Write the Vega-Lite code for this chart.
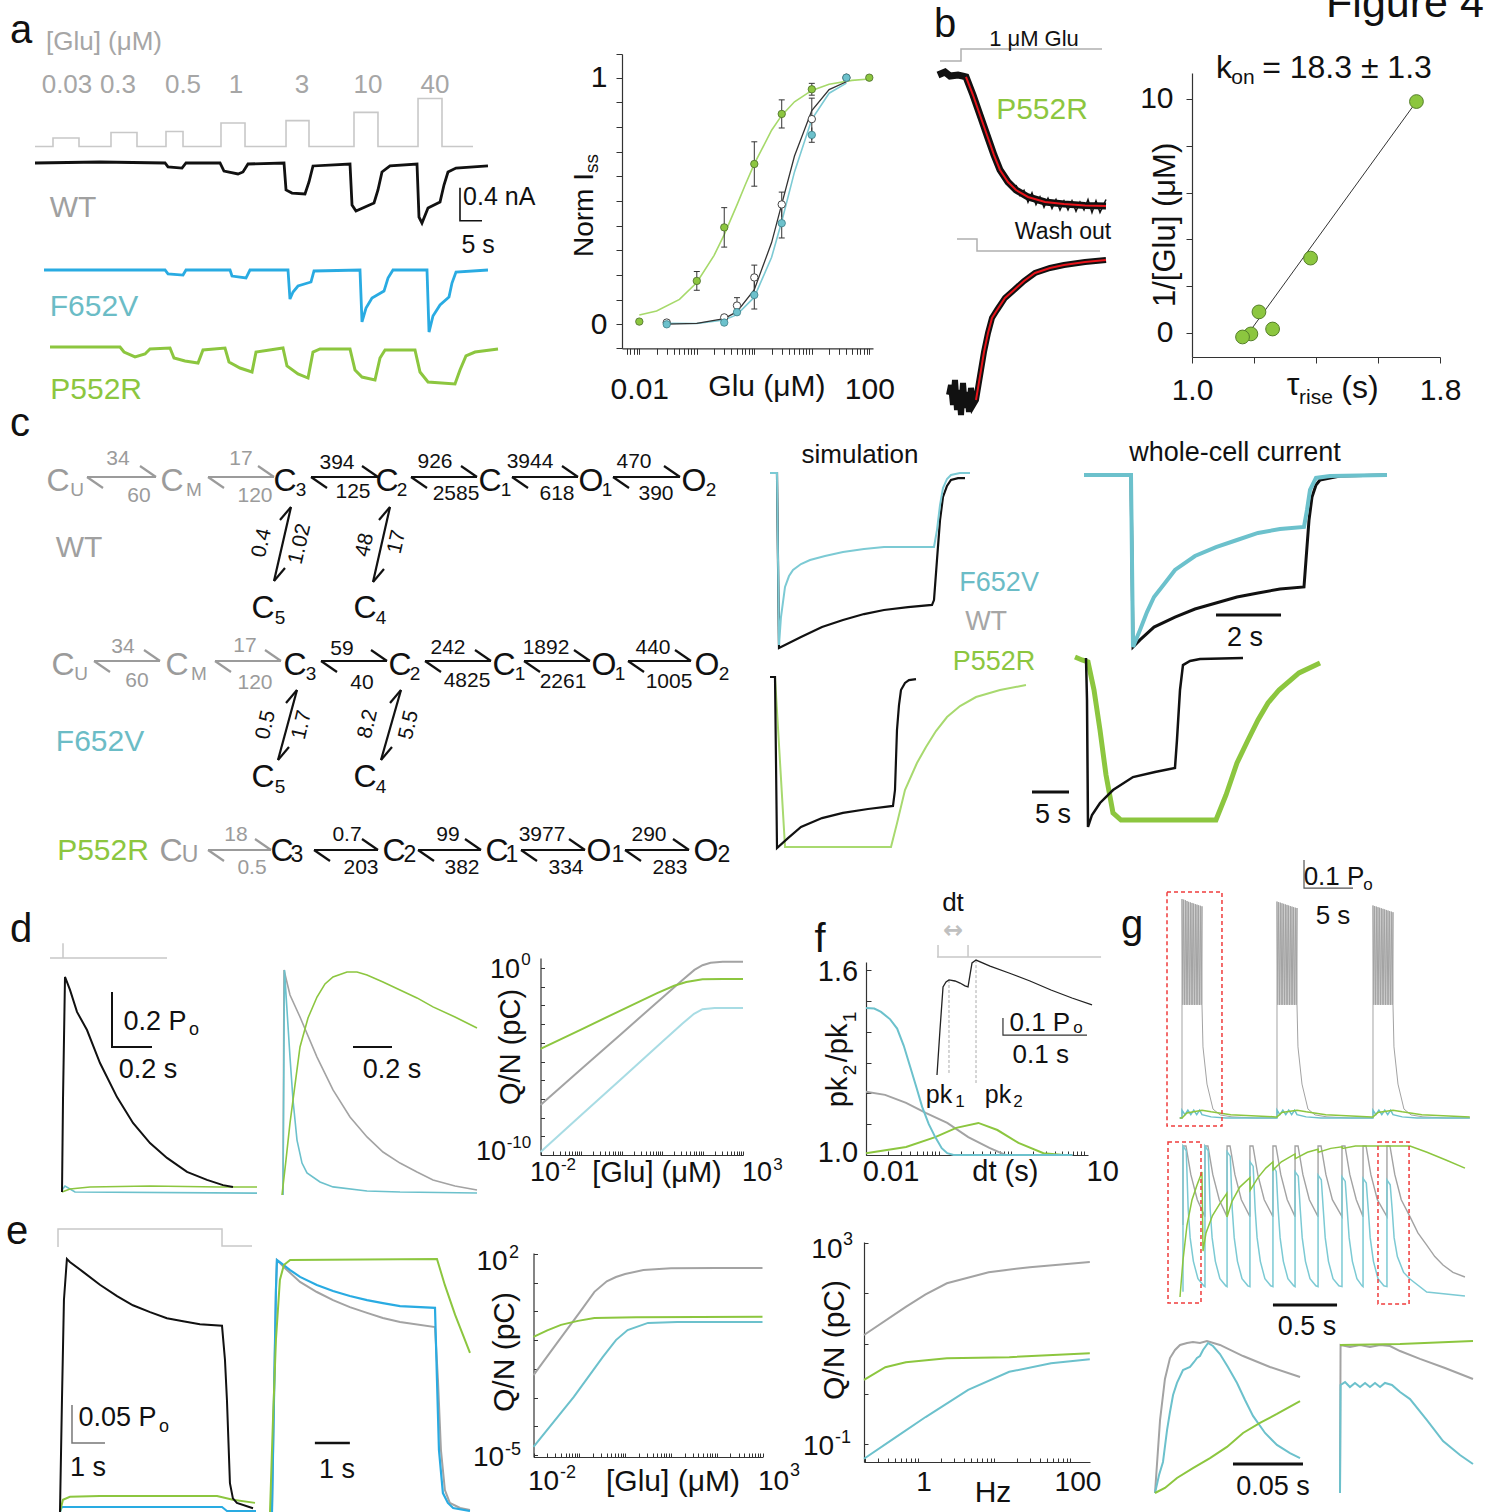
{
"$schema":"https://vega.github.io/schema/vega-lite/v6.json",
"width":1485,"height":1512,"padding":0,"autosize":{"type":"none"},"background":"#ffffff",
"config":{"view":{"stroke":null},"font":"Liberation Sans","axis":{"grid":false,"title":null,"domainColor":"#333333","tickColor":"#333333","domainWidth":1.2,"tickWidth":1,"labelColor":"#111111","labelFont":"Liberation Sans","labelFlush":false,"labelOverlap":false}},
"resolve":{"scale":{"x":"independent","y":"independent"}},
"layer":[
{"encoding":{"x":{"field":"x","type":"quantitative","scale":{"domain":[0,100],"range":[35,475],"nice":false,"zero":false},"axis":null},"y":{"field":"y","type":"quantitative","scale":{"domain":[0,1],"range":[146.5,98.5],"nice":false,"zero":false},"axis":null}},
"layer":[
{"data":{"values":[{"x":0,"y":0},{"x":4.09,"y":0},{"x":4.09,"y":0.177},{"x":10,"y":0.177},{"x":10,"y":0},{"x":17.27,"y":0},{"x":17.27,"y":0.292},{"x":23.18,"y":0.292},{"x":23.18,"y":0},{"x":29.77,"y":0},{"x":29.77,"y":0.3125},{"x":33.64,"y":0.3125},{"x":33.64,"y":0},{"x":42.27,"y":0},{"x":42.27,"y":0.49},{"x":47.73,"y":0.49},{"x":47.73,"y":0},{"x":57.05,"y":0},{"x":57.05,"y":0.54},{"x":62.27,"y":0.54},{"x":62.27,"y":0},{"x":72.5,"y":0},{"x":72.5,"y":0.71},{"x":77.95,"y":0.71},{"x":77.95,"y":0},{"x":87.05,"y":0},{"x":87.05,"y":1},{"x":92.5,"y":1},{"x":92.5,"y":0},{"x":99.55,"y":0}]},"mark":{"type":"line","color":"#c8c8c8","strokeWidth":1.6},"encoding":{"order":{"value":null}}},
{"data":{"values":[{"x":7.27,"y":1.281,"t":"0.03"},{"x":18.86,"y":1.281,"t":"0.3"},{"x":33.64,"y":1.281,"t":"0.5"},{"x":45.68,"y":1.281,"t":"1"},{"x":60.68,"y":1.281,"t":"3"},{"x":75.68,"y":1.281,"t":"10"},{"x":90.9,"y":1.281,"t":"40"},{"x":15.68,"y":2.177,"t":"[Glu] (μM)"}]},"mark":{"type":"text","color":"#a6a6a6","fontSize":26},"encoding":{"text":{"field":"t"}}},
{"data":{"values":[{"x":-3.18,"y":2.406,"t":"a"}]},"mark":{"type":"text","color":"#111111","fontSize":40},"encoding":{"text":{"field":"t"}}}
]},
{"encoding":{"x":{"field":"x","type":"quantitative","scale":{"domain":[0,100],"range":[35,475],"nice":false,"zero":false},"axis":null},"y":{"field":"y","type":"quantitative","scale":{"domain":[-1,0],"range":[245.5,163],"nice":false,"zero":false},"axis":null}},
"layer":[
{"data":{"values":[{"x":0,"y":0},{"x":14.77,"y":0.012},{"x":29.55,"y":0},{"x":30.23,"y":-0.048},{"x":33.41,"y":-0.061},{"x":34.32,"y":0},{"x":42.05,"y":0},{"x":42.95,"y":-0.097},{"x":46.14,"y":-0.133},{"x":47.27,"y":-0.109},{"x":48.41,"y":-0.012},{"x":56.59,"y":0},{"x":57.05,"y":-0.327},{"x":58.41,"y":-0.364},{"x":61.36,"y":-0.376},{"x":62.27,"y":-0.23},{"x":63.18,"y":-0.036},{"x":71.59,"y":-0.012},{"x":72.05,"y":-0.509},{"x":72.95,"y":-0.582},{"x":75,"y":-0.533},{"x":77.05,"y":-0.485},{"x":77.95,"y":-0.327},{"x":78.86,"y":-0.109},{"x":80.68,"y":-0.036},{"x":86.82,"y":-0.012},{"x":87.27,"y":-0.655},{"x":87.95,"y":-0.727},{"x":89.32,"y":-0.545},{"x":92.05,"y":-0.473},{"x":92.95,"y":-0.267},{"x":93.86,"y":-0.109},{"x":95.68,"y":-0.061},{"x":102.95,"y":-0.036}]},"mark":{"type":"line","color":"#111111","strokeWidth":2.8},"encoding":{"order":{"value":null}}},
{"data":{"values":[{"x":96.59,"y":-0.3},{"x":96.59,"y":-0.7},{"x":101.59,"y":-0.7}]},"mark":{"type":"line","color":"#111111","strokeWidth":1.6},"encoding":{"order":{"value":null}}},
{"data":{"values":[{"x":105.5,"y":-0.412,"t":"0.4 nA"},{"x":100.7,"y":-0.994,"t":"5 s"}]},"mark":{"type":"text","color":"#111111","fontSize":25},"encoding":{"text":{"field":"t"}}},
{"data":{"values":[{"x":8.64,"y":-0.545,"t":"WT"}]},"mark":{"type":"text","color":"#a0a0a0","fontSize":30},"encoding":{"text":{"field":"t"}}}
]},
{"encoding":{"x":{"field":"x","type":"quantitative","scale":{"domain":[0,100],"range":[35,475],"nice":false,"zero":false},"axis":null},"y":{"field":"y","type":"quantitative","scale":{"domain":[-1,0],"range":[352.5,270],"nice":false,"zero":false},"axis":null}},
"layer":[
{"data":{"values":[{"x":2.05,"y":0},{"x":29.55,"y":0},{"x":30.23,"y":-0.048},{"x":33.64,"y":-0.061},{"x":34.32,"y":0},{"x":44.32,"y":0},{"x":44.77,"y":-0.073},{"x":47.95,"y":-0.097},{"x":48.86,"y":0},{"x":57.5,"y":0},{"x":57.95,"y":-0.352},{"x":58.64,"y":-0.267},{"x":59.77,"y":-0.194},{"x":62.73,"y":-0.145},{"x":63.41,"y":-0.012},{"x":73.86,"y":0},{"x":74.32,"y":-0.63},{"x":75.23,"y":-0.461},{"x":76.59,"y":-0.339},{"x":79.32,"y":-0.255},{"x":80.23,"y":-0.097},{"x":81.36,"y":0},{"x":89.09,"y":0},{"x":89.55,"y":-0.752},{"x":90.45,"y":-0.558},{"x":92.05,"y":-0.424},{"x":94.09,"y":-0.327},{"x":94.77,"y":-0.158},{"x":95.68,"y":-0.024},{"x":102.95,"y":0}]},"mark":{"type":"line","color":"#29abe2","strokeWidth":2.8},"encoding":{"order":{"value":null}}},
{"data":{"values":[{"x":13.4,"y":-0.448,"t":"F652V"}]},"mark":{"type":"text","color":"#6bbcc6","fontSize":30},"encoding":{"text":{"field":"t"}}}
]},
{"encoding":{"x":{"field":"x","type":"quantitative","scale":{"domain":[0,100],"range":[35,475],"nice":false,"zero":false},"axis":null},"y":{"field":"y","type":"quantitative","scale":{"domain":[-1,0],"range":[429.5,347],"nice":false,"zero":false},"axis":null}},
"layer":[
{"data":{"values":[{"x":3.41,"y":0},{"x":19.32,"y":0},{"x":20.23,"y":-0.061},{"x":22.73,"y":-0.121},{"x":25,"y":-0.085},{"x":26.14,"y":-0.024},{"x":30.68,"y":-0.012},{"x":31.59,"y":-0.133},{"x":34.09,"y":-0.17},{"x":37.05,"y":-0.194},{"x":38.18,"y":-0.036},{"x":43.18,"y":-0.012},{"x":44.09,"y":-0.182},{"x":46.59,"y":-0.255},{"x":49.32,"y":-0.303},{"x":50.23,"y":-0.061},{"x":56.36,"y":-0.012},{"x":57.27,"y":-0.23},{"x":59.77,"y":-0.327},{"x":62.05,"y":-0.376},{"x":63.18,"y":-0.061},{"x":64.77,"y":-0.024},{"x":71.59,"y":-0.024},{"x":72.73,"y":-0.279},{"x":74.32,"y":-0.364},{"x":77.27,"y":-0.4},{"x":78.41,"y":-0.133},{"x":79.55,"y":-0.036},{"x":86.36,"y":-0.036},{"x":87.5,"y":-0.303},{"x":89.32,"y":-0.424},{"x":95.45,"y":-0.448},{"x":96.59,"y":-0.279},{"x":97.95,"y":-0.109},{"x":100,"y":-0.061},{"x":105.23,"y":-0.024}]},"mark":{"type":"line","color":"#8cc63f","strokeWidth":3},"encoding":{"order":{"value":null}}},
{"data":{"values":[{"x":13.9,"y":-0.521,"t":"P552R"}]},"mark":{"type":"text","color":"#8cc63f","fontSize":30},"encoding":{"text":{"field":"t"}}}
]},
{"encoding":{"x":{"field":"x","type":"quantitative","scale":{"type":"log","domain":[0.005,116],"range":[622,873],"nice":false},"axis":{"orient":"bottom","offset":-1163.7,"values":[0.006,0.007,0.008,0.009,0.01,0.02,0.03,0.04,0.05,0.06,0.07,0.08,0.09,0.1,0.2,0.3,0.4,0.5,0.6,0.7,0.8,0.9,1,2,3,4,5,6,7,8,9,10,20,30,40,50,60,70,80,90,100],"labelExpr":"datum.value==0.01?'0.01':datum.value==100?'100':''","tickSize":6,"labelFontSize":30,"labelPadding":20}},"y":{"field":"y","type":"quantitative","scale":{"domain":[-0.0973,1.096],"range":[348.3,54],"nice":false,"zero":false},"axis":{"orient":"left","offset":-622,"values":[-0.0973,0,0.1,0.2,0.3,0.4,0.5,0.6,0.7,0.8,0.9,1,1.096],"labelExpr":"datum.value==0?'0':datum.value==1?'1':''","tickSize":6,"labelFontSize":30,"labelPadding":9}}},
"layer":[
{"data":{"values":[{"x":0.01,"y":0.0374},{"x":0.02,"y":0.054},{"x":0.05,"y":0.101},{"x":0.1,"y":0.1696},{"x":0.2,"y":0.2796},{"x":0.3,"y":0.3639},{"x":0.5,"y":0.4845},{"x":0.7,"y":0.5666},{"x":1,"y":0.6502},{"x":2,"y":0.7871},{"x":3,"y":0.847},{"x":5,"y":0.9021},{"x":10,"y":0.9485},{"x":20,"y":0.9735},{"x":50,"y":0.9892},{"x":100,"y":0.9946}]},"mark":{"type":"line","color":"#a6d96a","strokeWidth":1.6},"encoding":{"order":{"value":null}}},
{"data":{"values":[{"x":0.03,"y":0.0045},{"x":0.1,"y":0.0031},{"x":0.3,"y":0.0176},{"x":0.5,"y":0.039},{"x":1,"y":0.11},{"x":2,"y":0.272},{"x":3,"y":0.417},{"x":5,"y":0.618},{"x":10,"y":0.831},{"x":20,"y":0.937},{"x":40,"y":0.978}]},"mark":{"type":"line","color":"#7ccad4","strokeWidth":1.6},"encoding":{"order":{"value":null}}},
{"data":{"values":[{"x":0.03,"y":0.0006},{"x":0.1,"y":0.0041},{"x":0.3,"y":0.0233},{"x":0.5,"y":0.0512},{"x":1,"y":0.1407},{"x":2,"y":0.3315},{"x":3,"y":0.487},{"x":5,"y":0.6824},{"x":10,"y":0.8669},{"x":20,"y":0.9518},{"x":40,"y":0.9835}]},"mark":{"type":"line","color":"#333333","strokeWidth":1.3},"encoding":{"order":{"value":null}}},
{"data":{"values":[{"x":0.1,"x2":0.1,"y":0.138,"y2":0.214},{"x":0.0887,"x2":0.1127,"y":0.138,"y2":0.138},{"x":0.0887,"x2":0.1127,"y":0.214,"y2":0.214},{"x":0.3,"x2":0.3,"y":0.313,"y2":0.473},{"x":0.266,"x2":0.338,"y":0.313,"y2":0.313},{"x":0.266,"x2":0.338,"y":0.473,"y2":0.473},{"x":1,"x2":1,"y":0.56,"y2":0.74},{"x":0.8873,"x2":1.127,"y":0.56,"y2":0.56},{"x":0.8873,"x2":1.127,"y":0.74,"y2":0.74},{"x":3,"x2":3,"y":0.796,"y2":0.91},{"x":2.662,"x2":3.381,"y":0.796,"y2":0.796},{"x":2.662,"x2":3.381,"y":0.91,"y2":0.91},{"x":10,"x2":10,"y":0.929,"y2":0.977},{"x":8.873,"x2":11.27,"y":0.929,"y2":0.929},{"x":8.873,"x2":11.27,"y":0.977,"y2":0.977},{"x":0.5,"x2":0.5,"y":0.044,"y2":0.108},{"x":0.4437,"x2":0.5635,"y":0.044,"y2":0.044},{"x":0.4437,"x2":0.5635,"y":0.108,"y2":0.108},{"x":1,"x2":1,"y":0.14,"y2":0.24},{"x":0.8873,"x2":1.127,"y":0.24,"y2":0.24},{"x":3,"x2":3,"y":0.436,"y2":0.536},{"x":2.662,"x2":3.381,"y":0.536,"y2":0.536},{"x":10,"x2":10,"y":0.747,"y2":0.917},{"x":8.873,"x2":11.27,"y":0.917,"y2":0.917},{"x":1,"x2":1,"y":0.062,"y2":0.176},{"x":0.8873,"x2":1.127,"y":0.062,"y2":0.062},{"x":3,"x2":3,"y":0.35,"y2":0.47},{"x":2.662,"x2":3.381,"y":0.35,"y2":0.35},{"x":10,"x2":10,"y":0.738,"y2":0.798},{"x":8.873,"x2":11.27,"y":0.738,"y2":0.738}]},"mark":{"type":"rule","color":"#333333","strokeWidth":1},"encoding":{"x2":{"field":"x2"},"y2":{"field":"y2"}}},
{"data":{"values":[{"x":0.01,"y":0.011},{"x":0.1,"y":0.176},{"x":0.3,"y":0.393},{"x":1,"y":0.65},{"x":3,"y":0.853},{"x":10,"y":0.953},{"x":100,"y":1.0}]},"mark":{"type":"point","shape":"circle","filled":true,"fill":"#8cc63f","stroke":"#4a6b2a","strokeWidth":0.8,"size":55,"opacity":1}},
{"data":{"values":[{"x":0.03,"y":0.007},{"x":0.3,"y":0.028},{"x":0.5,"y":0.076},{"x":1,"y":0.19},{"x":3,"y":0.486},{"x":10,"y":0.832},{"x":40,"y":1.0}]},"mark":{"type":"point","shape":"circle","filled":true,"fill":"#ffffff","stroke":"#444444","strokeWidth":1,"size":55,"opacity":1}},
{"data":{"values":[{"x":0.03,"y":0.0},{"x":0.3,"y":0.007},{"x":0.5,"y":0.049},{"x":1,"y":0.119},{"x":3,"y":0.41},{"x":10,"y":0.768},{"x":40,"y":1.0}]},"mark":{"type":"point","shape":"circle","filled":true,"fill":"#6cc1cc","stroke":"#3d7f88","strokeWidth":0.8,"size":55,"opacity":1}},
{"data":{"values":[{"x":0.001137,"y":0.4432,"t":"Norm I"}]},"mark":{"type":"text","color":"#111111","fontSize":28,"angle":270},"encoding":{"text":{"field":"t"}}},
{"data":{"values":[{"x":0.001503,"y":0.652,"t":"ss"}]},"mark":{"type":"text","color":"#111111","fontSize":19,"angle":270},"encoding":{"text":{"field":"t"}}},
{"data":{"values":[{"x":1.66,"y":-0.254,"t":"Glu (μM)"}]},"mark":{"type":"text","color":"#111111","fontSize":30},"encoding":{"text":{"field":"t"}}}
]},
{"encoding":{"x":{"field":"x","type":"quantitative","scale":{"domain":[0,16.8],"range":[938,1106],"nice":false,"zero":false},"axis":null},"y":{"field":"y","type":"quantitative","scale":{"domain":[-1,0],"range":[206,75],"nice":false,"zero":false},"axis":null}},
"layer":[
{"data":{"values":[{"x":0.2,"y":0.107},{"x":2.3,"y":0.107},{"x":2.3,"y":0.198},{"x":16.4,"y":0.198}]},"mark":{"type":"line","color":"#b0b0b0","strokeWidth":1.5},"encoding":{"order":{"value":null}}},
{"data":{"values":[{"x":0,"y":0},{"x":0.7,"y":0.023},{"x":1.2,"y":-0.008},{"x":2,"y":0},{"x":2.5,"y":-0.008},{"x":2.8,"y":-0.015},{"x":3.5,"y":-0.153},{"x":4.3,"y":-0.328},{"x":5,"y":-0.481},{"x":5.6,"y":-0.611},{"x":6.2,"y":-0.725},{"x":7,"y":-0.817},{"x":7.8,"y":-0.878},{"x":9,"y":-0.931},{"x":10.7,"y":-0.969},{"x":12.6,"y":-0.985},{"x":14.7,"y":-0.996},{"x":16.8,"y":-1.0}]},"mark":{"type":"line","color":"#111111","strokeWidth":7},"encoding":{"order":{"value":null}}},
{"data":{"values":[{"x":7.8,"y":-0.84},{"x":8.2,"y":-0.92},{"x":8.6,"y":-0.88},{"x":9.0,"y":-0.97},{"x":9.4,"y":-0.9},{"x":9.8,"y":-0.99},{"x":10.2,"y":-0.93},{"x":10.6,"y":-1.01},{"x":11.0,"y":-0.94},{"x":11.4,"y":-1.02},{"x":11.8,"y":-0.95},{"x":12.2,"y":-1.03},{"x":12.6,"y":-0.96},{"x":13.0,"y":-1.03},{"x":13.4,"y":-0.96},{"x":13.8,"y":-1.04},{"x":14.2,"y":-0.97},{"x":14.6,"y":-1.03},{"x":15.0,"y":-0.95},{"x":15.4,"y":-1.05},{"x":15.8,"y":-0.96},{"x":16.2,"y":-1.05},{"x":16.8,"y":-0.95}]},"mark":{"type":"line","color":"#111111","strokeWidth":1.5},"encoding":{"order":{"value":null}}},
{"data":{"values":[{"x":2.8,"y":-0.015},{"x":3.5,"y":-0.153},{"x":4.3,"y":-0.328},{"x":5,"y":-0.481},{"x":5.6,"y":-0.611},{"x":6.2,"y":-0.725},{"x":7,"y":-0.817},{"x":7.8,"y":-0.878},{"x":9,"y":-0.931},{"x":10.7,"y":-0.969},{"x":12.6,"y":-0.985},{"x":14.7,"y":-0.996},{"x":16.8,"y":-1.0}]},"mark":{"type":"line","color":"#e8141b","strokeWidth":2},"encoding":{"order":{"value":null}}},
{"data":{"values":[{"x":9.6,"y":0.275,"t":"1 μM Glu"}]},"mark":{"type":"text","color":"#111111","fontSize":22},"encoding":{"text":{"field":"t"}}},
{"data":{"values":[{"x":0.7,"y":0.382,"t":"b"}]},"mark":{"type":"text","color":"#111111","fontSize":40},"encoding":{"text":{"field":"t"}}},
{"data":{"values":[{"x":10.4,"y":-0.267,"t":"P552R"}]},"mark":{"type":"text","color":"#8cc63f","fontSize":30},"encoding":{"text":{"field":"t"}}}
]},
{"encoding":{"x":{"field":"x","type":"quantitative","scale":{"domain":[0,16.8],"range":[938,1106],"nice":false,"zero":false},"axis":null},"y":{"field":"y","type":"quantitative","scale":{"domain":[-1,0],"range":[400,260],"nice":false,"zero":false},"axis":null}},
"layer":[
{"data":{"values":[{"x":1.9,"y":0.15},{"x":3.9,"y":0.15},{"x":3.9,"y":0.064},{"x":16.2,"y":0.064}]},"mark":{"type":"line","color":"#b0b0b0","strokeWidth":1.5},"encoding":{"order":{"value":null}}},
{"data":{"values":[{"x":1.1,"y":-0.964},{"x":1.3,"y":-0.893},{"x":1.5,"y":-1.036},{"x":1.7,"y":-0.857},{"x":1.9,"y":-1.071},{"x":2.1,"y":-0.929},{"x":2.3,"y":-1.107},{"x":2.5,"y":-0.879},{"x":2.7,"y":-1.057},{"x":2.9,"y":-0.943},{"x":3.1,"y":-1.086},{"x":3.3,"y":-0.914},{"x":3.5,"y":-1.036},{"x":3.8,"y":-1.0},{"x":4.2,"y":-0.829},{"x":4.6,"y":-0.657},{"x":5.0,"y":-0.521},{"x":5.4,"y":-0.414},{"x":5.9,"y":-0.357},{"x":6.7,"y":-0.271},{"x":7.6,"y":-0.214},{"x":8.6,"y":-0.15},{"x":9.7,"y":-0.093},{"x":11.2,"y":-0.057},{"x":12.6,"y":-0.036},{"x":14.7,"y":-0.014},{"x":16.8,"y":0}]},"mark":{"type":"line","color":"#111111","strokeWidth":6},"encoding":{"order":{"value":null}}},
{"data":{"values":[{"x":3.8,"y":-1.0},{"x":4.2,"y":-0.829},{"x":4.6,"y":-0.657},{"x":5.0,"y":-0.521},{"x":5.4,"y":-0.414},{"x":5.9,"y":-0.357},{"x":6.7,"y":-0.271},{"x":7.6,"y":-0.214},{"x":8.6,"y":-0.15},{"x":9.7,"y":-0.093},{"x":11.2,"y":-0.057},{"x":12.6,"y":-0.036},{"x":14.7,"y":-0.014},{"x":16.8,"y":0}]},"mark":{"type":"line","color":"#e8141b","strokeWidth":2},"encoding":{"order":{"value":null}}},
{"data":{"values":[{"x":12.5,"y":0.2,"t":"Wash out"}]},"mark":{"type":"text","color":"#111111","fontSize":23},"encoding":{"text":{"field":"t"}}}
]},
{"encoding":{"x":{"field":"x","type":"quantitative","scale":{"domain":[1,1.8],"range":[1192,1440],"nice":false,"zero":false},"axis":{"orient":"bottom","offset":-1155,"values":[1,1.2,1.4,1.6,1.8],"labelExpr":"datum.value==1?'1.0':datum.value==1.8?'1.8':''","tickSize":6,"labelFontSize":30,"labelPadding":12}},"y":{"field":"y","type":"quantitative","scale":{"domain":[-1.026,11.11],"range":[357,73],"nice":false,"zero":false},"axis":{"orient":"left","offset":-1192,"values":[0,2,4,6,8,10],"labelExpr":"datum.value==0?'0':datum.value==10?'10':''","tickSize":6,"labelFontSize":30,"labelPadding":13}}},
"layer":[
{"data":{"values":[{"x":1.163,"y":-0.36},{"x":1.724,"y":9.89}]},"mark":{"type":"line","color":"#333333","strokeWidth":1},"encoding":{"order":{"value":null}}},
{"data":{"values":[{"x":1.724,"y":9.89},{"x":1.3825,"y":3.2},{"x":1.216,"y":0.9},{"x":1.26,"y":0.17},{"x":1.19,"y":-0.04},{"x":1.163,"y":-0.17}]},"mark":{"type":"point","shape":"circle","filled":true,"fill":"#8cc63f","stroke":"#557f2a","strokeWidth":1,"size":190,"opacity":1}},
{"data":{"values":[{"x":1.103,"y":11.32,"t":"k"},{"x":1.5,"y":11.32,"t":"= 18.3 ± 1.3"},{"x":1.326,"y":-2.22,"t":"τ"},{"x":1.542,"y":-2.35,"t":"(s)"}]},"mark":{"type":"text","color":"#111111","fontSize":32},"encoding":{"text":{"field":"t"}}},
{"data":{"values":[{"x":1.1645,"y":10.9,"t":"on"},{"x":1.4,"y":-2.78,"t":"rise"}]},"mark":{"type":"text","color":"#111111","fontSize":21},"encoding":{"text":{"field":"t"}}},
{"data":{"values":[{"x":0.916,"y":4.62,"t":"1/[Glu] (μM)"}]},"mark":{"type":"text","color":"#111111","fontSize":31,"angle":270},"encoding":{"text":{"field":"t"}}},
{"data":{"values":[{"x":1.687,"y":13.5,"t":"Figure 4"}]},"mark":{"type":"text","color":"#111111","fontSize":43,"baseline":"alphabetic"},"encoding":{"text":{"field":"t"}}}
]},
{"encoding":{"x":{"field":"x","type":"quantitative","scale":{"domain":[0,740],"range":[0,740],"nice":false,"zero":false},"axis":null},"y":{"field":"y","type":"quantitative","scale":{"domain":[420,890],"range":[420,890],"nice":false,"zero":false},"axis":null}},
"layer":[
{"data":{"values":[{"x":87,"y":477,"x2":156,"y2":477},{"x":156,"y":477,"x2":140,"y2":466},{"x":87,"y":477,"x2":103,"y2":488},{"x":208,"y":477,"x2":274,"y2":477},{"x":274,"y":477,"x2":258,"y2":466},{"x":208,"y":477,"x2":224,"y2":488},{"x":94,"y":661,"x2":160,"y2":661},{"x":160,"y":661,"x2":144,"y2":650},{"x":94,"y":661,"x2":110,"y2":672},{"x":215,"y":661,"x2":281,"y2":661},{"x":281,"y":661,"x2":265,"y2":650},{"x":215,"y":661,"x2":231,"y2":672},{"x":208,"y":850,"x2":271,"y2":850},{"x":271,"y":850,"x2":255,"y2":839},{"x":208,"y":850,"x2":224,"y2":861}]},"mark":{"type":"rule","color":"#9b9b9b","strokeWidth":2.2},"encoding":{"x2":{"field":"x2"},"y2":{"field":"y2"}}},
{"data":{"values":[{"x":311,"y":477,"x2":378,"y2":477},{"x":378,"y":477,"x2":362,"y2":466},{"x":311,"y":477,"x2":327,"y2":488},{"x":411,"y":477,"x2":477,"y2":477},{"x":477,"y":477,"x2":461,"y2":466},{"x":411,"y":477,"x2":427,"y2":488},{"x":512,"y":477,"x2":578,"y2":477},{"x":578,"y":477,"x2":562,"y2":466},{"x":512,"y":477,"x2":528,"y2":488},{"x":613,"y":477,"x2":680,"y2":477},{"x":680,"y":477,"x2":664,"y2":466},{"x":613,"y":477,"x2":629,"y2":488},{"x":321,"y":661,"x2":387,"y2":661},{"x":387,"y":661,"x2":371,"y2":650},{"x":321,"y":661,"x2":337,"y2":672},{"x":425,"y":661,"x2":491,"y2":661},{"x":491,"y":661,"x2":475,"y2":650},{"x":425,"y":661,"x2":441,"y2":672},{"x":524,"y":661,"x2":590,"y2":661},{"x":590,"y":661,"x2":574,"y2":650},{"x":524,"y":661,"x2":540,"y2":672},{"x":628,"y":661,"x2":691,"y2":661},{"x":691,"y":661,"x2":675,"y2":650},{"x":628,"y":661,"x2":644,"y2":672},{"x":314,"y":850,"x2":378,"y2":850},{"x":378,"y":850,"x2":362,"y2":839},{"x":314,"y":850,"x2":330,"y2":861},{"x":418,"y":850,"x2":481,"y2":850},{"x":481,"y":850,"x2":465,"y2":839},{"x":418,"y":850,"x2":434,"y2":861},{"x":521,"y":850,"x2":585,"y2":850},{"x":585,"y":850,"x2":569,"y2":839},{"x":521,"y":850,"x2":537,"y2":861},{"x":625,"y":850,"x2":689,"y2":850},{"x":689,"y":850,"x2":673,"y2":839},{"x":625,"y":850,"x2":641,"y2":861},{"x":291,"y":507,"x2":274,"y2":581},{"x":291,"y":507,"x2":280,"y2":520},{"x":274,"y":581,"x2":285,"y2":568},{"x":390,"y":507,"x2":373,"y2":582},{"x":390,"y":507,"x2":379,"y2":520},{"x":373,"y":582,"x2":384,"y2":569},{"x":297,"y":690,"x2":278,"y2":760},{"x":297,"y":690,"x2":286,"y2":703},{"x":278,"y":760,"x2":289,"y2":747},{"x":401,"y":690,"x2":381,"y2":760},{"x":401,"y":690,"x2":390,"y2":703},{"x":381,"y":760,"x2":392,"y2":747}]},"mark":{"type":"rule","color":"#111111","strokeWidth":2.2},"encoding":{"x2":{"field":"x2"},"y2":{"field":"y2"}}},
{"data":{"values":[{"x":58,"y":481,"t":"C"},{"x":172,"y":481,"t":"C"},{"x":63,"y":665,"t":"C"},{"x":177,"y":665,"t":"C"},{"x":171,"y":851,"t":"C"}]},"mark":{"type":"text","color":"#9b9b9b","fontSize":32},"encoding":{"text":{"field":"t"}}},
{"data":{"values":[{"x":77,"y":490,"t":"U"},{"x":194,"y":490,"t":"M"},{"x":81,"y":674,"t":"U"},{"x":199,"y":674,"t":"M"}]},"mark":{"type":"text","color":"#9b9b9b","fontSize":19},"encoding":{"text":{"field":"t"}}},
{"data":{"values":[{"x":190,"y":855,"t":"U"}]},"mark":{"type":"text","color":"#9b9b9b","fontSize":23},"encoding":{"text":{"field":"t"}}},
{"data":{"values":[{"x":118,"y":459,"t":"34"},{"x":139,"y":496,"t":"60"},{"x":241,"y":459,"t":"17"},{"x":255,"y":496,"t":"120"},{"x":123,"y":647,"t":"34"},{"x":137,"y":681,"t":"60"},{"x":245,"y":646,"t":"17"},{"x":255,"y":683,"t":"120"},{"x":236,"y":835,"t":"18"},{"x":252,"y":868,"t":"0.5"}]},"mark":{"type":"text","color":"#9b9b9b","fontSize":21},"encoding":{"text":{"field":"t"}}},
{"data":{"values":[{"x":285,"y":481,"t":"C"},{"x":387,"y":481,"t":"C"},{"x":490,"y":481,"t":"C"},{"x":591,"y":481,"t":"O"},{"x":694,"y":481,"t":"O"},{"x":263,"y":608,"t":"C"},{"x":365,"y":608,"t":"C"},{"x":295,"y":665,"t":"C"},{"x":400,"y":665,"t":"C"},{"x":504,"y":665,"t":"C"},{"x":604,"y":665,"t":"O"},{"x":707,"y":665,"t":"O"},{"x":263,"y":777,"t":"C"},{"x":365,"y":777,"t":"C"},{"x":282,"y":851,"t":"C"},{"x":394,"y":851,"t":"C"},{"x":497,"y":851,"t":"C"},{"x":599,"y":851,"t":"O"},{"x":706,"y":851,"t":"O"}]},"mark":{"type":"text","color":"#111111","fontSize":32},"encoding":{"text":{"field":"t"}}},
{"data":{"values":[{"x":301,"y":490,"t":"3"},{"x":402,"y":490,"t":"2"},{"x":506,"y":490,"t":"1"},{"x":607,"y":490,"t":"1"},{"x":711,"y":490,"t":"2"},{"x":280,"y":618,"t":"5"},{"x":381,"y":618,"t":"4"},{"x":311,"y":674,"t":"3"},{"x":415,"y":674,"t":"2"},{"x":520,"y":674,"t":"1"},{"x":620,"y":674,"t":"1"},{"x":724,"y":674,"t":"2"},{"x":280,"y":787,"t":"5"},{"x":381,"y":787,"t":"4"}]},"mark":{"type":"text","color":"#111111","fontSize":19},"encoding":{"text":{"field":"t"}}},
{"data":{"values":[{"x":297,"y":855,"t":"3"},{"x":410,"y":855,"t":"2"},{"x":512,"y":855,"t":"1"},{"x":618,"y":855,"t":"1"},{"x":724,"y":855,"t":"2"}]},"mark":{"type":"text","color":"#111111","fontSize":23},"encoding":{"text":{"field":"t"}}},
{"data":{"values":[{"x":337,"y":463,"t":"394"},{"x":353,"y":492,"t":"125"},{"x":435,"y":462,"t":"926"},{"x":456,"y":494,"t":"2585"},{"x":530,"y":462,"t":"3944"},{"x":557,"y":494,"t":"618"},{"x":634,"y":462,"t":"470"},{"x":656,"y":494,"t":"390"},{"x":342,"y":649,"t":"59"},{"x":362,"y":683,"t":"40"},{"x":448,"y":648,"t":"242"},{"x":467,"y":681,"t":"4825"},{"x":546,"y":648,"t":"1892"},{"x":563,"y":682,"t":"2261"},{"x":653,"y":648,"t":"440"},{"x":669,"y":682,"t":"1005"},{"x":347,"y":835,"t":"0.7"},{"x":361,"y":868,"t":"203"},{"x":448,"y":835,"t":"99"},{"x":462,"y":868,"t":"382"},{"x":542,"y":835,"t":"3977"},{"x":566,"y":868,"t":"334"},{"x":649,"y":835,"t":"290"},{"x":670,"y":868,"t":"283"}]},"mark":{"type":"text","color":"#111111","fontSize":21},"encoding":{"text":{"field":"t"}}},
{"data":{"values":[{"x":262,"y":543,"t":"0.4"},{"x":300,"y":544,"t":"1.02"},{"x":365,"y":545,"t":"48"},{"x":397,"y":542,"t":"17"},{"x":266,"y":725,"t":"0.5"},{"x":302,"y":725,"t":"1.7"},{"x":368,"y":724,"t":"8.2"},{"x":409,"y":725,"t":"5.5"}]},"mark":{"type":"text","color":"#111111","fontSize":21,"angle":283},"encoding":{"text":{"field":"t"}}},
{"data":{"values":[{"x":79,"y":548,"t":"WT"}]},"mark":{"type":"text","color":"#a0a0a0","fontSize":30},"encoding":{"text":{"field":"t"}}},
{"data":{"values":[{"x":100,"y":742,"t":"F652V"}]},"mark":{"type":"text","color":"#6bbcc6","fontSize":30},"encoding":{"text":{"field":"t"}}},
{"data":{"values":[{"x":103,"y":851,"t":"P552R"}]},"mark":{"type":"text","color":"#8cc63f","fontSize":30},"encoding":{"text":{"field":"t"}}},
{"data":{"values":[{"x":20,"y":424,"t":"c"}]},"mark":{"type":"text","color":"#111111","fontSize":40},"encoding":{"text":{"field":"t"}}}
]},
{"encoding":{"x":{"field":"x","type":"quantitative","scale":{"domain":[0,6.154],"range":[770,970],"nice":false,"zero":false},"axis":null},"y":{"field":"y","type":"quantitative","scale":{"domain":[-1,0],"range":[648,473],"nice":false,"zero":false},"axis":null}},
"layer":[
{"data":{"values":[{"x":0,"y":0},{"x":0.215,"y":0},{"x":0.277,"y":-1},{"x":0.954,"y":-0.937},{"x":1.6,"y":-0.88},{"x":2.246,"y":-0.84},{"x":2.892,"y":-0.806},{"x":3.508,"y":-0.783},{"x":4.246,"y":-0.766},{"x":4.985,"y":-0.754},{"x":5.046,"y":-0.726},{"x":5.138,"y":-0.497},{"x":5.231,"y":-0.269},{"x":5.323,"y":-0.137},{"x":5.446,"y":-0.074},{"x":5.569,"y":-0.04},{"x":5.785,"y":-0.029},{"x":6.0,"y":-0.029}]},"mark":{"type":"line","color":"#111111","strokeWidth":2.2},"encoding":{"order":{"value":null}}},
{"data":{"values":[{"x":0,"y":0},{"x":0.215,"y":0},{"x":0.277,"y":-0.983},{"x":0.338,"y":-0.823},{"x":0.462,"y":-0.651},{"x":0.585,"y":-0.589},{"x":0.708,"y":-0.554},{"x":0.954,"y":-0.52},{"x":1.231,"y":-0.497},{"x":1.692,"y":-0.474},{"x":2.246,"y":-0.451},{"x":2.892,"y":-0.434},{"x":3.508,"y":-0.423},{"x":5.046,"y":-0.423},{"x":5.138,"y":-0.326},{"x":5.231,"y":-0.183},{"x":5.323,"y":-0.086},{"x":5.446,"y":-0.034},{"x":5.569,"y":-0.011},{"x":5.846,"y":0},{"x":6.154,"y":0}]},"mark":{"type":"line","color":"#7ccad4","strokeWidth":2},"encoding":{"order":{"value":null}}},
{"data":{"values":[{"x":2.77,"y":0.103,"t":"simulation"}]},"mark":{"type":"text","color":"#111111","fontSize":26},"encoding":{"text":{"field":"t"}}},
{"data":{"values":[{"x":7.05,"y":-0.629,"t":"F652V"}]},"mark":{"type":"text","color":"#6bbcc6","fontSize":27},"encoding":{"text":{"field":"t"}}},
{"data":{"values":[{"x":6.65,"y":-0.851,"t":"WT"}]},"mark":{"type":"text","color":"#a6a6a6","fontSize":27},"encoding":{"text":{"field":"t"}}},
{"data":{"values":[{"x":6.89,"y":-1.08,"t":"P552R"}]},"mark":{"type":"text","color":"#8cc63f","fontSize":27},"encoding":{"text":{"field":"t"}}}
]},
{"encoding":{"x":{"field":"x","type":"quantitative","scale":{"domain":[0,35],"range":[770,1029],"nice":false,"zero":false},"axis":null},"y":{"field":"y","type":"quantitative","scale":{"domain":[-1,0],"range":[848,677],"nice":false,"zero":false},"axis":null}},
"layer":[
{"data":{"values":[{"x":0,"y":0},{"x":0.676,"y":0},{"x":2.03,"y":-0.994},{"x":16.35,"y":-0.994},{"x":17.16,"y":-0.856},{"x":18.24,"y":-0.661},{"x":19.86,"y":-0.503},{"x":21.08,"y":-0.409},{"x":22.43,"y":-0.316},{"x":23.92,"y":-0.234},{"x":25.68,"y":-0.17},{"x":27.84,"y":-0.117},{"x":31.08,"y":-0.076},{"x":34.59,"y":-0.047}]},"mark":{"type":"line","color":"#a8d96f","strokeWidth":2},"encoding":{"order":{"value":null}}},
{"data":{"values":[{"x":0,"y":0},{"x":0.676,"y":0},{"x":0.946,"y":-1},{"x":2.43,"y":-0.942},{"x":4.19,"y":-0.877},{"x":7.03,"y":-0.825},{"x":9.86,"y":-0.795},{"x":13.24,"y":-0.772},{"x":16.62,"y":-0.754},{"x":16.89,"y":-0.661},{"x":17.16,"y":-0.31},{"x":17.43,"y":-0.164},{"x":17.7,"y":-0.076},{"x":18.24,"y":-0.035},{"x":18.78,"y":-0.018},{"x":19.73,"y":-0.012}]},"mark":{"type":"line","color":"#111111","strokeWidth":2.2},"encoding":{"order":{"value":null}}}
]},
{"encoding":{"x":{"field":"x","type":"quantitative","scale":{"domain":[0,9.4],"range":[1084,1389.5],"nice":false,"zero":false},"axis":null},"y":{"field":"y","type":"quantitative","scale":{"domain":[-1,0],"range":[647,475],"nice":false,"zero":false},"axis":null}},
"layer":[
{"data":{"values":[{"x":0,"y":0},{"x":1.446,"y":0},{"x":1.508,"y":-1},{"x":1.723,"y":-0.959},{"x":2.154,"y":-0.884},{"x":2.8,"y":-0.826},{"x":3.415,"y":-0.779},{"x":4.062,"y":-0.744},{"x":4.708,"y":-0.709},{"x":5.354,"y":-0.686},{"x":6.031,"y":-0.663},{"x":6.769,"y":-0.651},{"x":6.831,"y":-0.494},{"x":6.923,"y":-0.262},{"x":7.015,"y":-0.128},{"x":7.138,"y":-0.058},{"x":7.262,"y":-0.029},{"x":7.877,"y":-0.006},{"x":9.323,"y":0}]},"mark":{"type":"line","color":"#111111","strokeWidth":3},"encoding":{"order":{"value":null}}},
{"data":{"values":[{"x":0,"y":0},{"x":1.446,"y":0},{"x":1.508,"y":-1},{"x":1.723,"y":-0.901},{"x":1.938,"y":-0.797},{"x":2.154,"y":-0.709},{"x":2.492,"y":-0.628},{"x":2.8,"y":-0.552},{"x":3.415,"y":-0.471},{"x":4.062,"y":-0.419},{"x":4.708,"y":-0.378},{"x":5.354,"y":-0.337},{"x":6.031,"y":-0.314},{"x":6.769,"y":-0.302},{"x":6.862,"y":-0.203},{"x":6.954,"y":-0.087},{"x":7.138,"y":-0.017},{"x":7.569,"y":-0.006},{"x":9.323,"y":0}]},"mark":{"type":"line","color":"#6cc1cc","strokeWidth":4},"encoding":{"order":{"value":null}}},
{"data":{"values":[{"x":4.062,"y":-0.814},{"x":6.062,"y":-0.814}]},"mark":{"type":"line","color":"#111111","strokeWidth":3},"encoding":{"order":{"value":null}}},
{"data":{"values":[{"x":4.646,"y":0.128,"t":"whole-cell current"},{"x":4.954,"y":-0.948,"t":"2 s"}]},"mark":{"type":"text","color":"#111111","fontSize":27},"encoding":{"text":{"field":"t"}}}
]},
{"encoding":{"x":{"field":"x","type":"quantitative","scale":{"domain":[0,35],"range":[1075,1334],"nice":false,"zero":false},"axis":null},"y":{"field":"y","type":"quantitative","scale":{"domain":[-1,0],"range":[822,658],"nice":false,"zero":false},"axis":null}},
"layer":[
{"data":{"values":[{"x":0,"y":0.006},{"x":0.946,"y":-0.012},{"x":1.757,"y":-0.024},{"x":2.568,"y":-0.195},{"x":3.378,"y":-0.439},{"x":4.189,"y":-0.713},{"x":5.135,"y":-0.945},{"x":6.216,"y":-0.988},{"x":19.05,"y":-0.988},{"x":20.41,"y":-0.835},{"x":21.89,"y":-0.64},{"x":23.38,"y":-0.5},{"x":24.73,"y":-0.378},{"x":26.08,"y":-0.274},{"x":27.57,"y":-0.195},{"x":30.27,"y":-0.091},{"x":33.11,"y":-0.03}]},"mark":{"type":"line","color":"#8cc63f","strokeWidth":5},"encoding":{"order":{"value":null}}},
{"data":{"values":[{"x":1.486,"y":0},{"x":1.622,"y":-0.256},{"x":1.757,"y":-1.03},{"x":2.297,"y":-0.957},{"x":3.378,"y":-0.884},{"x":5.135,"y":-0.805},{"x":7.838,"y":-0.726},{"x":10.81,"y":-0.695},{"x":13.51,"y":-0.671},{"x":13.78,"y":-0.5},{"x":14.19,"y":-0.195},{"x":14.59,"y":-0.043},{"x":15.54,"y":-0.018},{"x":16.89,"y":-0.006},{"x":22.7,"y":0}]},"mark":{"type":"line","color":"#111111","strokeWidth":2.5},"encoding":{"order":{"value":null}}},
{"data":{"values":[{"x":-5.81,"y":-0.817},{"x":-0.81,"y":-0.817}]},"mark":{"type":"line","color":"#111111","strokeWidth":3},"encoding":{"order":{"value":null}}},
{"data":{"values":[{"x":-2.97,"y":-0.957,"t":"5 s"}]},"mark":{"type":"text","color":"#111111","fontSize":27},"encoding":{"text":{"field":"t"}}}
]},
{"encoding":{"x":{"field":"x","type":"quantitative","scale":{"domain":[0,1],"range":[62,262],"nice":false,"zero":false},"axis":null},"y":{"field":"y","type":"quantitative","scale":{"domain":[0,1],"range":[1192,917],"nice":false,"zero":false},"axis":null}},
"layer":[
{"data":{"values":[{"x":-0.06,"y":0.851},{"x":0.005,"y":0.851},{"x":0.005,"y":0.905},{"x":0.005,"y":0.851},{"x":0.525,"y":0.851}]},"mark":{"type":"line","color":"#c8c8c8","strokeWidth":1.5},"encoding":{"order":{"value":null}}},
{"data":{"values":[{"x":0,"y":0.007},{"x":0.015,"y":0.022},{"x":0.065,"y":0},{"x":0.975,"y":-0.004}]},"mark":{"type":"line","color":"#6cc1cc","strokeWidth":1.6},"encoding":{"order":{"value":null}}},
{"data":{"values":[{"x":0,"y":0},{"x":0.04,"y":0.011},{"x":0.14,"y":0.018},{"x":0.44,"y":0.022},{"x":0.79,"y":0.018},{"x":0.975,"y":0.018}]},"mark":{"type":"line","color":"#8cc63f","strokeWidth":1.6},"encoding":{"order":{"value":null}}},
{"data":{"values":[{"x":0,"y":0},{"x":0.005,"y":0.335},{"x":0.015,"y":0.782},{"x":0.04,"y":0.735},{"x":0.075,"y":0.655},{"x":0.125,"y":0.589},{"x":0.19,"y":0.469},{"x":0.275,"y":0.345},{"x":0.355,"y":0.251},{"x":0.44,"y":0.178},{"x":0.525,"y":0.124},{"x":0.625,"y":0.073},{"x":0.725,"y":0.044},{"x":0.805,"y":0.025},{"x":0.855,"y":0.018}]},"mark":{"type":"line","color":"#111111","strokeWidth":2},"encoding":{"order":{"value":null}}},
{"data":{"values":[{"x":0.25,"y":0.727},{"x":0.25,"y":0.527},{"x":0.45,"y":0.527}]},"mark":{"type":"line","color":"#111111","strokeWidth":2},"encoding":{"order":{"value":null}}},
{"data":{"values":[{"x":0.465,"y":0.618,"t":"0.2 P"},{"x":0.43,"y":0.444,"t":"0.2 s"}]},"mark":{"type":"text","color":"#111111","fontSize":27},"encoding":{"text":{"field":"t"}}},
{"data":{"values":[{"x":0.66,"y":0.589,"t":"o"}]},"mark":{"type":"text","color":"#111111","fontSize":18},"encoding":{"text":{"field":"t"}}},
{"data":{"values":[{"x":-0.205,"y":0.953,"t":"d"}]},"mark":{"type":"text","color":"#111111","fontSize":40},"encoding":{"text":{"field":"t"}}}
]},
{"encoding":{"x":{"field":"x","type":"quantitative","scale":{"domain":[0,1],"range":[282,482],"nice":false,"zero":false},"axis":null},"y":{"field":"y","type":"quantitative","scale":{"domain":[0,1],"range":[1195,970],"nice":false,"zero":false},"axis":null}},
"layer":[
{"data":{"values":[{"x":0.005,"y":0},{"x":0.01,"y":1.0},{"x":0.04,"y":0.889},{"x":0.09,"y":0.791},{"x":0.175,"y":0.613},{"x":0.255,"y":0.467},{"x":0.34,"y":0.347},{"x":0.425,"y":0.258},{"x":0.505,"y":0.191},{"x":0.59,"y":0.142},{"x":0.675,"y":0.102},{"x":0.755,"y":0.067},{"x":0.865,"y":0.04},{"x":0.975,"y":0.022}]},"mark":{"type":"line","color":"#a3a3a3","strokeWidth":1.6},"encoding":{"order":{"value":null}}},
{"data":{"values":[{"x":0.005,"y":0},{"x":0.0125,"y":1.0},{"x":0.025,"y":0.822},{"x":0.04,"y":0.613},{"x":0.055,"y":0.422},{"x":0.075,"y":0.244},{"x":0.1,"y":0.142},{"x":0.125,"y":0.098},{"x":0.19,"y":0.058},{"x":0.255,"y":0.036},{"x":0.425,"y":0.018},{"x":0.59,"y":0.013},{"x":0.975,"y":0.009}]},"mark":{"type":"line","color":"#6cc1cc","strokeWidth":1.6},"encoding":{"order":{"value":null}}},
{"data":{"values":[{"x":0,"y":0},{"x":0.02,"y":0.156},{"x":0.04,"y":0.32},{"x":0.065,"y":0.489},{"x":0.09,"y":0.658},{"x":0.13,"y":0.787},{"x":0.175,"y":0.88},{"x":0.215,"y":0.938},{"x":0.255,"y":0.969},{"x":0.325,"y":0.991},{"x":0.375,"y":0.991},{"x":0.425,"y":0.978},{"x":0.505,"y":0.947},{"x":0.59,"y":0.911},{"x":0.675,"y":0.876},{"x":0.755,"y":0.836},{"x":0.865,"y":0.791},{"x":0.975,"y":0.742}]},"mark":{"type":"line","color":"#8cc63f","strokeWidth":1.6},"encoding":{"order":{"value":null}}},
{"data":{"values":[{"x":0.355,"y":0.658},{"x":0.55,"y":0.658}]},"mark":{"type":"line","color":"#111111","strokeWidth":2},"encoding":{"order":{"value":null}}},
{"data":{"values":[{"x":0.55,"y":0.556,"t":"0.2 s"}]},"mark":{"type":"text","color":"#111111","fontSize":27},"encoding":{"text":{"field":"t"}}}
]},
{"encoding":{"x":{"field":"x","type":"quantitative","scale":{"type":"log","domain":[0.01,1000],"range":[540.5,743],"nice":false},"axis":{"orient":"bottom","offset":-357,"values":[0.01,0.02,0.03,0.04,0.05,0.06,0.07,0.08,0.09,0.1,0.2,0.3,0.4,0.5,0.6,0.7,0.8,0.9,1,2,3,4,5,6,7,8,9,10,20,30,40,50,60,70,80,90,100,200,300,400,500,600,700,800,900,1000],"labels":false,"tickSize":-4}},"y":{"field":"y","type":"quantitative","scale":{"type":"log","domain":[1e-10,3.43],"range":[1155,958],"nice":false},"axis":{"orient":"left","offset":-540.5,"values":[1e-10,1e-9,1e-8,1e-7,1e-6,1e-5,1e-4,1e-3,1e-2,1e-1,1],"labels":false,"tickSize":-4}}},
"layer":[
{"data":{"values":[{"x":0.01,"y":4.68e-8},{"x":0.1,"y":3.8e-6},{"x":1,"y":3.09e-4},{"x":10,"y":0.0251},{"x":31.6,"y":0.224},{"x":63.1,"y":0.794},{"x":100,"y":1.41},{"x":158.5,"y":1.905},{"x":316,"y":2.14},{"x":1000,"y":2.19}]},"mark":{"type":"line","color":"#a3a3a3","strokeWidth":2},"encoding":{"order":{"value":null}}},
{"data":{"values":[{"x":0.01,"y":1.45e-10},{"x":0.1,"y":1.32e-8},{"x":1,"y":1.2e-6},{"x":10,"y":1.1e-4},{"x":31.6,"y":1.05e-3},{"x":61.7,"y":3.55e-3},{"x":100,"y":6.31e-3},{"x":199.5,"y":7.24e-3},{"x":1000,"y":7.24e-3}]},"mark":{"type":"line","color":"#a8dce4","strokeWidth":2},"encoding":{"order":{"value":null}}},
{"data":{"values":[{"x":0.01,"y":4.68e-5},{"x":0.1,"y":5.13e-4},{"x":1,"y":5.62e-3},{"x":7.59,"y":0.0457},{"x":19.95,"y":0.112},{"x":39.8,"y":0.178},{"x":100,"y":0.251},{"x":316,"y":0.257},{"x":1000,"y":0.257}]},"mark":{"type":"line","color":"#8cc63f","strokeWidth":2},"encoding":{"order":{"value":null}}},
{"data":{"values":[{"x":0.00133,"y":0.78,"t":"10"},{"x":0.0006,"y":1.45e-10,"t":"10"},{"x":0.0129,"y":1.1e-11,"t":"10"},{"x":2218,"y":1.1e-11,"t":"10"}]},"mark":{"type":"text","color":"#111111","fontSize":27},"encoding":{"text":{"field":"t"}}},
{"data":{"values":[{"x":0.00439,"y":2.68,"t":"0"},{"x":0.00294,"y":4.37e-10,"t":"-10"},{"x":0.049,"y":2.9e-11,"t":"-2"},{"x":7311,"y":2.9e-11,"t":"3"}]},"mark":{"type":"text","color":"#111111","fontSize":17},"encoding":{"text":{"field":"t"}}},
{"data":{"values":[{"x":7.53,"y":1.1e-11,"t":"[Glu] (μM)"}]},"mark":{"type":"text","color":"#111111","fontSize":29},"encoding":{"text":{"field":"t"}}},
{"data":{"values":[{"x":0.00192,"y":6.0e-5,"t":"Q/N (pC)"}]},"mark":{"type":"text","color":"#111111","fontSize":29,"angle":270},"encoding":{"text":{"field":"t"}}}
]},
{"encoding":{"x":{"field":"x","type":"quantitative","scale":{"domain":[0,0.2],"range":[937,1107],"nice":false,"zero":false},"axis":null},"y":{"field":"y","type":"quantitative","scale":{"domain":[0,1],"range":[1075,905],"nice":false,"zero":false},"axis":null}},
"layer":[
{"data":{"values":[{"x":0,"y":0.694},{"x":0.0012,"y":0.694},{"x":0.0012,"y":0.765},{"x":0.0012,"y":0.694},{"x":0.0365,"y":0.694},{"x":0.0365,"y":0.765},{"x":0.0365,"y":0.694},{"x":0.193,"y":0.694}]},"mark":{"type":"line","color":"#c8c8c8","strokeWidth":1.5},"encoding":{"order":{"value":null}}},
{"data":{"values":[{"x":0.0141,"y":0.559,"x2":0.0141,"y2":0},{"x":0.0459,"y":0.676,"x2":0.0459,"y2":-0.047}]},"mark":{"type":"rule","color":"#aaaaaa","strokeWidth":1,"strokeDash":[3,2]},"encoding":{"x2":{"field":"x2"},"y2":{"field":"y2"}}},
{"data":{"values":[{"x":0,"y":0},{"x":0.0035,"y":0.265},{"x":0.0071,"y":0.518},{"x":0.0106,"y":0.547},{"x":0.0141,"y":0.559},{"x":0.0212,"y":0.553},{"x":0.0271,"y":0.541},{"x":0.0329,"y":0.524},{"x":0.0365,"y":0.518},{"x":0.0388,"y":0.588},{"x":0.0412,"y":0.659},{"x":0.0459,"y":0.676},{"x":0.0624,"y":0.641},{"x":0.0847,"y":0.6},{"x":0.1094,"y":0.553},{"x":0.1341,"y":0.5},{"x":0.1588,"y":0.453},{"x":0.1824,"y":0.412}]},"mark":{"type":"line","color":"#222222","strokeWidth":1.3},"encoding":{"order":{"value":null}}},
{"data":{"values":[{"x":0.0776,"y":0.335},{"x":0.0776,"y":0.235},{"x":0.1765,"y":0.235}]},"mark":{"type":"line","color":"#333333","strokeWidth":1.2},"encoding":{"order":{"value":null}}},
{"data":{"values":[{"x":0.0188,"y":1.01,"t":"dt"},{"x":0.121,"y":0.306,"t":"0.1 P"},{"x":0.122,"y":0.118,"t":"0.1 s"}]},"mark":{"type":"text","color":"#111111","fontSize":26},"encoding":{"text":{"field":"t"}}},
{"data":{"values":[{"x":0.0024,"y":-0.118,"t":"pk"},{"x":0.0718,"y":-0.118,"t":"pk"}]},"mark":{"type":"text","color":"#111111","fontSize":25},"encoding":{"text":{"field":"t"}}},
{"data":{"values":[{"x":0.166,"y":0.276,"t":"o"},{"x":0.027,"y":-0.159,"t":"1"},{"x":0.0953,"y":-0.159,"t":"2"}]},"mark":{"type":"text","color":"#111111","fontSize":17},"encoding":{"text":{"field":"t"}}},
{"data":{"values":[{"x":0.0188,"y":0.85,"t":"↔"}]},"mark":{"type":"text","color":"#c0c0c0","fontSize":24,"fontWeight":"bold","font":"DejaVu Sans"},"encoding":{"text":{"field":"t"}}},
{"data":{"values":[{"x":-0.1376,"y":0.794,"t":"f"}]},"mark":{"type":"text","color":"#111111","fontSize":40},"encoding":{"text":{"field":"t"}}}
]},
{"encoding":{"x":{"field":"x","type":"quantitative","scale":{"type":"log","domain":[0.01,11.3],"range":[866,1088],"nice":false},"axis":{"orient":"bottom","offset":-357,"values":[0.01,0.02,0.03,0.04,0.05,0.06,0.07,0.08,0.09,0.1,0.2,0.3,0.4,0.5,0.6,0.7,0.8,0.9,1,2,3,4,5,6,7,8,9,10],"labels":false,"tickSize":-4}},"y":{"field":"y","type":"quantitative","scale":{"domain":[1,1.626],"range":[1155,962],"nice":false,"zero":false},"axis":{"orient":"left","offset":-866,"values":[1,1.1,1.2,1.3,1.4,1.5,1.6],"labels":false,"tickSize":-5}}},
"layer":[
{"data":{"values":[{"x":0.01,"y":1.205},{"x":0.0183,"y":1.195},{"x":0.0356,"y":1.169},{"x":0.0673,"y":1.136},{"x":0.131,"y":1.104},{"x":0.255,"y":1.058},{"x":0.498,"y":1.023},{"x":0.826,"y":1.0},{"x":6.9,"y":1.0}]},"mark":{"type":"line","color":"#a3a3a3","strokeWidth":2},"encoding":{"order":{"value":null}}},
{"data":{"values":[{"x":0.01,"y":1.006},{"x":0.0356,"y":1.026},{"x":0.0896,"y":1.058},{"x":0.174,"y":1.088},{"x":0.351,"y":1.104},{"x":0.641,"y":1.081},{"x":1.25,"y":1.039},{"x":2.76,"y":1.006},{"x":5.21,"y":1.0}]},"mark":{"type":"line","color":"#8cc63f","strokeWidth":2},"encoding":{"order":{"value":null}}},
{"data":{"values":[{"x":0.01,"y":1.477},{"x":0.013,"y":1.475},{"x":0.0161,"y":1.464},{"x":0.0215,"y":1.44},{"x":0.0268,"y":1.41},{"x":0.033,"y":1.355},{"x":0.0405,"y":1.286},{"x":0.05,"y":1.215},{"x":0.0592,"y":1.156},{"x":0.073,"y":1.1},{"x":0.0896,"y":1.058},{"x":0.11,"y":1.022},{"x":0.131,"y":1.006},{"x":0.16,"y":1.0},{"x":6.9,"y":1.0}]},"mark":{"type":"line","color":"#6cc1cc","strokeWidth":2},"encoding":{"order":{"value":null}}},
{"data":{"values":[{"x":0.00411,"y":1.594,"t":"1.6"},{"x":0.00411,"y":1.0065,"t":"1.0"},{"x":0.0221,"y":0.945,"t":"0.01"},{"x":18.0,"y":0.945,"t":"10"},{"x":0.826,"y":0.945,"t":"dt (s)"}]},"mark":{"type":"text","color":"#111111","fontSize":29},"encoding":{"text":{"field":"t"}}},
{"data":{"values":[{"x":0.00411,"y":1.2045,"t":"pk"},{"x":0.00411,"y":1.3636,"t":"/pk"}]},"mark":{"type":"text","color":"#111111","fontSize":29,"angle":270},"encoding":{"text":{"field":"t"}}},
{"data":{"values":[{"x":0.006,"y":1.276,"t":"2"},{"x":0.006,"y":1.448,"t":"1"}]},"mark":{"type":"text","color":"#111111","fontSize":19,"angle":270},"encoding":{"text":{"field":"t"}}}
]},
{"encoding":{"x":{"field":"x","type":"quantitative","scale":{"domain":[0,32],"range":[1167,1480.6],"nice":false,"zero":false},"axis":null},"y":{"field":"y","type":"quantitative","scale":{"domain":[0,1],"range":[1118,838],"nice":false,"zero":false},"axis":null}},
"layer":[
{"data":{"values":[{"x":1.3,"y":0},{"x":1.531,"y":0},{"x":1.531,"y":0.782},{"x":1.616,"y":0.404},{"x":1.701,"y":0.78},{"x":1.786,"y":0.404},{"x":1.871,"y":0.778},{"x":1.956,"y":0.404},{"x":2.041,"y":0.775},{"x":2.126,"y":0.404},{"x":2.211,"y":0.772},{"x":2.296,"y":0.404},{"x":2.381,"y":0.77},{"x":2.466,"y":0.404},{"x":2.551,"y":0.768},{"x":2.636,"y":0.404},{"x":2.721,"y":0.766},{"x":2.806,"y":0.404},{"x":2.891,"y":0.764},{"x":2.976,"y":0.404},{"x":3.061,"y":0.762},{"x":3.146,"y":0.404},{"x":3.231,"y":0.76},{"x":3.316,"y":0.404},{"x":3.401,"y":0.758},{"x":3.486,"y":0.404},{"x":3.571,"y":0.756},{"x":3.571,"y":0.404},{"x":3.671,"y":0.254},{"x":4.081,"y":0.121},{"x":4.691,"y":0.032},{"x":5.411,"y":0.011},{"x":6.631,"y":0.004},{"x":9.031,"y":0},{"x":11.224,"y":0},{"x":11.224,"y":0.773},{"x":11.309,"y":0.404},{"x":11.394,"y":0.771},{"x":11.479,"y":0.404},{"x":11.564,"y":0.769},{"x":11.649,"y":0.404},{"x":11.734,"y":0.767},{"x":11.819,"y":0.404},{"x":11.904,"y":0.765},{"x":11.989,"y":0.404},{"x":12.074,"y":0.763},{"x":12.159,"y":0.404},{"x":12.244,"y":0.761},{"x":12.329,"y":0.404},{"x":12.414,"y":0.759},{"x":12.499,"y":0.404},{"x":12.584,"y":0.757},{"x":12.669,"y":0.404},{"x":12.754,"y":0.755},{"x":12.839,"y":0.404},{"x":12.924,"y":0.753},{"x":13.009,"y":0.404},{"x":13.094,"y":0.751},{"x":13.179,"y":0.404},{"x":13.264,"y":0.75},{"x":13.264,"y":0.404},{"x":13.364,"y":0.254},{"x":13.774,"y":0.121},{"x":14.384,"y":0.032},{"x":15.104,"y":0.011},{"x":16.324,"y":0.004},{"x":18.724,"y":0},{"x":21.02,"y":0},{"x":21.02,"y":0.759},{"x":21.105,"y":0.404},{"x":21.19,"y":0.757},{"x":21.275,"y":0.404},{"x":21.36,"y":0.755},{"x":21.445,"y":0.404},{"x":21.53,"y":0.753},{"x":21.615,"y":0.404},{"x":21.7,"y":0.751},{"x":21.785,"y":0.404},{"x":21.87,"y":0.749},{"x":21.955,"y":0.404},{"x":22.04,"y":0.747},{"x":22.125,"y":0.404},{"x":22.21,"y":0.745},{"x":22.295,"y":0.404},{"x":22.38,"y":0.743},{"x":22.465,"y":0.404},{"x":22.55,"y":0.741},{"x":22.635,"y":0.404},{"x":22.72,"y":0.739},{"x":22.805,"y":0.404},{"x":22.89,"y":0.737},{"x":22.975,"y":0.404},{"x":23.06,"y":0.735},{"x":23.06,"y":0.404},{"x":23.16,"y":0.254},{"x":23.57,"y":0.121},{"x":24.18,"y":0.032},{"x":24.9,"y":0.011},{"x":26.12,"y":0.004},{"x":28.52,"y":0},{"x":30.9,"y":0}]},"mark":{"type":"line","color":"#a3a3a3","strokeWidth":1},"encoding":{"order":{"value":null}}},
{"data":{"values":[{"x":1.3,"y":0},{"x":1.531,"y":0},{"x":1.531,"y":0.028},{"x":1.83,"y":0.012},{"x":2.13,"y":0.028},{"x":2.43,"y":0.012},{"x":2.73,"y":0.028},{"x":3.03,"y":0.012},{"x":3.33,"y":0.028},{"x":3.571,"y":0.012},{"x":4.5,"y":0.004},{"x":6,"y":0},{"x":11.224,"y":0},{"x":11.224,"y":0.028},{"x":11.52,"y":0.012},{"x":11.82,"y":0.028},{"x":12.12,"y":0.012},{"x":12.42,"y":0.028},{"x":12.72,"y":0.012},{"x":13.02,"y":0.028},{"x":13.264,"y":0.012},{"x":14.2,"y":0.004},{"x":15.7,"y":0},{"x":21.02,"y":0},{"x":21.02,"y":0.028},{"x":21.32,"y":0.012},{"x":21.62,"y":0.028},{"x":21.92,"y":0.012},{"x":22.22,"y":0.028},{"x":22.52,"y":0.012},{"x":22.82,"y":0.028},{"x":23.06,"y":0.012},{"x":24,"y":0.004},{"x":25.5,"y":0},{"x":30.9,"y":0}]},"mark":{"type":"line","color":"#6cc1cc","strokeWidth":1.5},"encoding":{"order":{"value":null}}},
{"data":{"values":[{"x":1.3,"y":0},{"x":1.531,"y":0},{"x":2.03,"y":0.018},{"x":3.571,"y":0.028},{"x":4.5,"y":0.022},{"x":6.5,"y":0.012},{"x":11.1,"y":0.004},{"x":11.224,"y":0.004},{"x":11.72,"y":0.02},{"x":13.264,"y":0.028},{"x":14.2,"y":0.022},{"x":16.2,"y":0.012},{"x":20.9,"y":0.004},{"x":21.02,"y":0.004},{"x":21.52,"y":0.02},{"x":23.06,"y":0.028},{"x":24,"y":0.022},{"x":26,"y":0.012},{"x":30.9,"y":0.004}]},"mark":{"type":"line","color":"#8cc63f","strokeWidth":1.5},"encoding":{"order":{"value":null}}},
{"data":{"values":[{"x":0,"x2":5.61,"y":0.807,"y2":-0.029}]},"mark":{"type":"rect","filled":false,"stroke":"#f03c3c","strokeWidth":1.5,"strokeDash":[4,3]},"encoding":{"x2":{"field":"x2"},"y2":{"field":"y2"}}},
{"data":{"values":[{"x":13.98,"y":0.921},{"x":13.98,"y":0.821},{"x":18.98,"y":0.821}]},"mark":{"type":"line","color":"#555555","strokeWidth":1.2},"encoding":{"order":{"value":null}}},
{"data":{"values":[{"x":17.04,"y":0.861,"t":"0.1 P"},{"x":16.94,"y":0.721,"t":"5 s"}]},"mark":{"type":"text","color":"#111111","fontSize":26},"encoding":{"text":{"field":"t"}}},
{"data":{"values":[{"x":20.51,"y":0.832,"t":"o"}]},"mark":{"type":"text","color":"#111111","fontSize":17},"encoding":{"text":{"field":"t"}}},
{"data":{"values":[{"x":-3.57,"y":0.686,"t":"g"}]},"mark":{"type":"text","color":"#111111","fontSize":40},"encoding":{"text":{"field":"t"}}}
]},
{"encoding":{"x":{"field":"x","type":"quantitative","scale":{"domain":[0,2.31],"range":[1167,1467.3],"nice":false,"zero":false},"axis":null},"y":{"field":"y","type":"quantitative","scale":{"domain":[0,1],"range":[1304,1146],"nice":false,"zero":false},"axis":null}},
"layer":[
{"data":{"values":[{"x":0.123,"y":0.5},{"x":0.123,"y":1},{"x":0.146,"y":1},{"x":0.183,"y":0.82},{"x":0.233,"y":0.66},{"x":0.292,"y":0.553},{"x":0.292,"y":1},{"x":0.315,"y":1},{"x":0.352,"y":0.82},{"x":0.402,"y":0.66},{"x":0.462,"y":0.553},{"x":0.462,"y":1},{"x":0.485,"y":1},{"x":0.522,"y":0.82},{"x":0.572,"y":0.66},{"x":0.638,"y":0.553},{"x":0.638,"y":1},{"x":0.661,"y":1},{"x":0.698,"y":0.82},{"x":0.748,"y":0.66},{"x":0.815,"y":0.553},{"x":0.815,"y":1},{"x":0.838,"y":1},{"x":0.875,"y":0.82},{"x":0.925,"y":0.66},{"x":0.985,"y":0.553},{"x":0.985,"y":1},{"x":1.008,"y":1},{"x":1.045,"y":0.82},{"x":1.095,"y":0.66},{"x":1.162,"y":0.553},{"x":1.162,"y":1},{"x":1.185,"y":1},{"x":1.222,"y":0.82},{"x":1.272,"y":0.66},{"x":1.346,"y":0.553},{"x":1.346,"y":1},{"x":1.369,"y":1},{"x":1.406,"y":0.82},{"x":1.456,"y":0.66},{"x":1.508,"y":0.553},{"x":1.508,"y":1},{"x":1.531,"y":1},{"x":1.568,"y":0.82},{"x":1.618,"y":0.66},{"x":1.692,"y":0.553},{"x":1.692,"y":1},{"x":1.715,"y":1},{"x":1.752,"y":0.82},{"x":1.802,"y":0.66},{"x":1.869,"y":0.553},{"x":1.93,"y":0.45},{"x":1.998,"y":0.373},{"x":2.06,"y":0.3},{"x":2.123,"y":0.247},{"x":2.2,"y":0.2},{"x":2.292,"y":0.171}]},"mark":{"type":"line","color":"#a3a3a3","strokeWidth":1.4},"encoding":{"order":{"value":null}}},
{"data":{"values":[{"x":0.123,"y":0.078},{"x":0.123,"y":1},{"x":0.148,"y":0.97},{"x":0.163,"y":0.6},{"x":0.178,"y":0.42},{"x":0.203,"y":0.27},{"x":0.238,"y":0.16},{"x":0.283,"y":0.115},{"x":0.292,"y":0.11},{"x":0.292,"y":1},{"x":0.317,"y":0.97},{"x":0.332,"y":0.6},{"x":0.347,"y":0.42},{"x":0.372,"y":0.27},{"x":0.407,"y":0.16},{"x":0.452,"y":0.115},{"x":0.462,"y":0.11},{"x":0.462,"y":0.964},{"x":0.487,"y":0.934},{"x":0.502,"y":0.6},{"x":0.517,"y":0.42},{"x":0.542,"y":0.27},{"x":0.577,"y":0.16},{"x":0.622,"y":0.115},{"x":0.638,"y":0.11},{"x":0.638,"y":0.901},{"x":0.663,"y":0.871},{"x":0.678,"y":0.6},{"x":0.693,"y":0.42},{"x":0.718,"y":0.27},{"x":0.753,"y":0.16},{"x":0.798,"y":0.115},{"x":0.815,"y":0.11},{"x":0.815,"y":0.869},{"x":0.84,"y":0.839},{"x":0.855,"y":0.6},{"x":0.87,"y":0.42},{"x":0.895,"y":0.27},{"x":0.93,"y":0.16},{"x":0.975,"y":0.115},{"x":0.985,"y":0.11},{"x":0.985,"y":0.838},{"x":1.01,"y":0.808},{"x":1.025,"y":0.6},{"x":1.04,"y":0.42},{"x":1.065,"y":0.27},{"x":1.1,"y":0.16},{"x":1.145,"y":0.115},{"x":1.162,"y":0.11},{"x":1.162,"y":0.816},{"x":1.187,"y":0.786},{"x":1.202,"y":0.6},{"x":1.217,"y":0.42},{"x":1.242,"y":0.27},{"x":1.277,"y":0.16},{"x":1.322,"y":0.115},{"x":1.346,"y":0.11},{"x":1.346,"y":0.806},{"x":1.371,"y":0.776},{"x":1.386,"y":0.6},{"x":1.401,"y":0.42},{"x":1.426,"y":0.27},{"x":1.461,"y":0.16},{"x":1.5,"y":0.115},{"x":1.508,"y":0.11},{"x":1.508,"y":0.795},{"x":1.533,"y":0.765},{"x":1.548,"y":0.6},{"x":1.563,"y":0.42},{"x":1.588,"y":0.27},{"x":1.623,"y":0.16},{"x":1.668,"y":0.115},{"x":1.692,"y":0.11},{"x":1.692,"y":0.785},{"x":1.717,"y":0.755},{"x":1.732,"y":0.6},{"x":1.747,"y":0.42},{"x":1.772,"y":0.3},{"x":1.82,"y":0.2},{"x":1.869,"y":0.158},{"x":1.998,"y":0.076},{"x":2.292,"y":0.05}]},"mark":{"type":"line","color":"#7ccad4","strokeWidth":1.5},"encoding":{"order":{"value":null}}},
{"data":{"values":[{"x":0.1,"y":0.044},{"x":0.123,"y":0.278},{"x":0.154,"y":0.5},{"x":0.192,"y":0.658},{"x":0.231,"y":0.753},{"x":0.269,"y":0.835},{"x":0.277,"y":0.335},{"x":0.3,"y":0.45},{"x":0.35,"y":0.56},{"x":0.41,"y":0.64},{"x":0.46,"y":0.7},{"x":0.462,"y":0.55},{"x":0.5,"y":0.65},{"x":0.56,"y":0.74},{"x":0.638,"y":0.8},{"x":0.64,"y":0.72},{"x":0.7,"y":0.8},{"x":0.76,"y":0.86},{"x":0.815,"y":0.9},{"x":0.817,"y":0.85},{"x":0.88,"y":0.9},{"x":0.985,"y":0.95},{"x":0.987,"y":0.92},{"x":1.08,"y":0.96},{"x":1.162,"y":0.98},{"x":1.164,"y":0.96},{"x":1.26,"y":0.985},{"x":1.346,"y":0.995},{"x":1.35,"y":0.985},{"x":1.45,"y":1.0},{"x":1.6,"y":1.0},{"x":1.869,"y":1.0},{"x":2.0,"y":0.96},{"x":2.15,"y":0.91},{"x":2.292,"y":0.86}]},"mark":{"type":"line","color":"#8cc63f","strokeWidth":1.5},"encoding":{"order":{"value":null}}},
{"data":{"values":[{"x":0.0077,"x2":0.2615,"y":1.025,"y2":0.006},{"x":1.623,"x2":1.862,"y":1.025,"y2":0}]},"mark":{"type":"rect","filled":false,"stroke":"#f03c3c","strokeWidth":1.5,"strokeDash":[4,3]},"encoding":{"x2":{"field":"x2"},"y2":{"field":"y2"}}},
{"data":{"values":[{"x":0.815,"y":-0.006},{"x":1.308,"y":-0.006}]},"mark":{"type":"line","color":"#111111","strokeWidth":3},"encoding":{"order":{"value":null}}},
{"data":{"values":[{"x":1.077,"y":-0.146,"t":"0.5 s"}]},"mark":{"type":"text","color":"#111111","fontSize":27},"encoding":{"text":{"field":"t"}}}
]},
{"encoding":{"x":{"field":"x","type":"quantitative","scale":{"domain":[0,0.105],"range":[1155,1302],"nice":false,"zero":false},"axis":null},"y":{"field":"y","type":"quantitative","scale":{"domain":[0,1],"range":[1493,1341],"nice":false,"zero":false},"axis":null}},
"layer":[
{"data":{"values":[{"x":0,"y":0},{"x":0.0036,"y":0.48},{"x":0.0071,"y":0.75},{"x":0.0107,"y":0.888},{"x":0.0143,"y":0.941},{"x":0.0179,"y":0.974},{"x":0.0229,"y":0.987},{"x":0.0271,"y":0.993},{"x":0.0321,"y":0.987},{"x":0.0371,"y":1.0},{"x":0.0464,"y":0.974},{"x":0.0629,"y":0.901},{"x":0.0821,"y":0.829},{"x":0.1036,"y":0.763}]},"mark":{"type":"line","color":"#a3a3a3","strokeWidth":2},"encoding":{"order":{"value":null}}},
{"data":{"values":[{"x":0,"y":0},{"x":0.0029,"y":0.118},{"x":0.0057,"y":0.204},{"x":0.0086,"y":0.414},{"x":0.0107,"y":0.533},{"x":0.0129,"y":0.645},{"x":0.0157,"y":0.724},{"x":0.02,"y":0.809},{"x":0.025,"y":0.829},{"x":0.0279,"y":0.862},{"x":0.03,"y":0.888},{"x":0.0321,"y":0.901},{"x":0.0343,"y":0.941},{"x":0.0379,"y":0.987},{"x":0.0414,"y":0.967},{"x":0.0464,"y":0.914},{"x":0.0521,"y":0.829},{"x":0.0586,"y":0.724},{"x":0.0643,"y":0.612},{"x":0.07,"y":0.507},{"x":0.0786,"y":0.395},{"x":0.0871,"y":0.316},{"x":0.0964,"y":0.263},{"x":0.1036,"y":0.23}]},"mark":{"type":"line","color":"#6cc1cc","strokeWidth":2},"encoding":{"order":{"value":null}}},
{"data":{"values":[{"x":0,"y":0},{"x":0.0071,"y":0.033},{"x":0.0157,"y":0.099},{"x":0.0271,"y":0.164},{"x":0.0393,"y":0.23},{"x":0.0514,"y":0.303},{"x":0.0629,"y":0.395},{"x":0.075,"y":0.461},{"x":0.0871,"y":0.52},{"x":0.1036,"y":0.605}]},"mark":{"type":"line","color":"#8cc63f","strokeWidth":2},"encoding":{"order":{"value":null}}},
{"data":{"values":[{"x":0.0557,"y":0.191},{"x":0.1057,"y":0.191}]},"mark":{"type":"line","color":"#111111","strokeWidth":3},"encoding":{"order":{"value":null}}},
{"data":{"values":[{"x":0.0843,"y":0.039,"t":"0.05 s"}]},"mark":{"type":"text","color":"#111111","fontSize":27},"encoding":{"text":{"field":"t"}}}
]},
{"encoding":{"x":{"field":"x","type":"quantitative","scale":{"domain":[0,0.095],"range":[1340,1473],"nice":false,"zero":false},"axis":null},"y":{"field":"y","type":"quantitative","scale":{"domain":[0,1],"range":[1493,1341],"nice":false,"zero":false},"axis":null}},
"layer":[
{"data":{"values":[{"x":0,"y":0},{"x":0.0004,"y":0.974},{"x":0.0071,"y":0.961},{"x":0.0143,"y":0.974},{"x":0.0214,"y":0.961},{"x":0.0286,"y":0.974},{"x":0.0357,"y":0.967},{"x":0.0429,"y":0.934},{"x":0.0571,"y":0.882},{"x":0.075,"y":0.822},{"x":0.095,"y":0.75}]},"mark":{"type":"line","color":"#a3a3a3","strokeWidth":2},"encoding":{"order":{"value":null}}},
{"data":{"values":[{"x":0,"y":0},{"x":0.0004,"y":0.711},{"x":0.0036,"y":0.73},{"x":0.0071,"y":0.697},{"x":0.0107,"y":0.724},{"x":0.0143,"y":0.697},{"x":0.0179,"y":0.724},{"x":0.0214,"y":0.697},{"x":0.025,"y":0.724},{"x":0.0286,"y":0.697},{"x":0.0321,"y":0.724},{"x":0.0371,"y":0.711},{"x":0.0429,"y":0.664},{"x":0.05,"y":0.618},{"x":0.0621,"y":0.48},{"x":0.0736,"y":0.342},{"x":0.0857,"y":0.25},{"x":0.095,"y":0.191}]},"mark":{"type":"line","color":"#6cc1cc","strokeWidth":2},"encoding":{"order":{"value":null}}},
{"data":{"values":[{"x":0,"y":0.974},{"x":0.0429,"y":0.98},{"x":0.095,"y":1.0}]},"mark":{"type":"line","color":"#8cc63f","strokeWidth":2},"encoding":{"order":{"value":null}}}
]},
{"encoding":{"x":{"field":"x","type":"quantitative","scale":{"domain":[0,6],"range":[58,256],"nice":false,"zero":false},"axis":null},"y":{"field":"y","type":"quantitative","scale":{"domain":[0,0.35],"range":[1512,1246],"nice":false,"zero":false},"axis":null}},
"layer":[
{"data":{"values":[{"x":0,"y":0.3487},{"x":0,"y":0.3724},{"x":4.97,"y":0.3724},{"x":4.97,"y":0.35},{"x":5.88,"y":0.35}]},"mark":{"type":"line","color":"#c8c8c8","strokeWidth":1.5},"encoding":{"order":{"value":null}}},
{"data":{"values":[{"x":0.06,"y":0},{"x":0.12,"y":0.0066},{"x":4.97,"y":0.0066},{"x":5.12,"y":0.0013},{"x":6,"y":0.0013}]},"mark":{"type":"line","color":"#29abe2","strokeWidth":2},"encoding":{"order":{"value":null}}},
{"data":{"values":[{"x":0.06,"y":0},{"x":0.15,"y":0.016},{"x":0.36,"y":0.02},{"x":1.27,"y":0.021},{"x":4.82,"y":0.021},{"x":5.3,"y":0.016},{"x":5.97,"y":0.012}]},"mark":{"type":"line","color":"#8cc63f","strokeWidth":2},"encoding":{"order":{"value":null}}},
{"data":{"values":[{"x":0.06,"y":0},{"x":0.12,"y":0.147},{"x":0.18,"y":0.279},{"x":0.27,"y":0.333},{"x":0.36,"y":0.329},{"x":0.76,"y":0.316},{"x":1.27,"y":0.299},{"x":1.79,"y":0.284},{"x":2.27,"y":0.272},{"x":2.79,"y":0.263},{"x":3.3,"y":0.255},{"x":3.79,"y":0.251},{"x":4.3,"y":0.247},{"x":4.97,"y":0.245},{"x":5.06,"y":0.2},{"x":5.12,"y":0.147},{"x":5.21,"y":0.038},{"x":5.3,"y":0.018},{"x":5.42,"y":0.012},{"x":5.91,"y":0.005}]},"mark":{"type":"line","color":"#111111","strokeWidth":2},"encoding":{"order":{"value":null}}},
{"data":{"values":[{"x":0.424,"y":0.1408},{"x":0.424,"y":0.0908},{"x":1.424,"y":0.0908}]},"mark":{"type":"line","color":"#777777","strokeWidth":1.5},"encoding":{"order":{"value":null}}},
{"data":{"values":[{"x":1.803,"y":0.1237,"t":"0.05 P"},{"x":0.909,"y":0.0579,"t":"1 s"}]},"mark":{"type":"text","color":"#111111","fontSize":27},"encoding":{"text":{"field":"t"}}},
{"data":{"values":[{"x":3.21,"y":0.1118,"t":"o"}]},"mark":{"type":"text","color":"#111111","fontSize":18},"encoding":{"text":{"field":"t"}}},
{"data":{"values":[{"x":-1.24,"y":0.368,"t":"e"}]},"mark":{"type":"text","color":"#111111","fontSize":40},"encoding":{"text":{"field":"t"}}}
]},
{"encoding":{"x":{"field":"x","type":"quantitative","scale":{"domain":[0,6.1],"range":[270,471.3],"nice":false,"zero":false},"axis":null},"y":{"field":"y","type":"quantitative","scale":{"domain":[0,1],"range":[1512,1260],"nice":false,"zero":false},"axis":null}},
"layer":[
{"data":{"values":[{"x":0.06,"y":0},{"x":0.18,"y":0.881},{"x":0.21,"y":1.0},{"x":0.45,"y":0.968},{"x":0.91,"y":0.913},{"x":1.42,"y":0.873},{"x":1.91,"y":0.841},{"x":2.42,"y":0.813},{"x":2.94,"y":0.79},{"x":3.42,"y":0.77},{"x":3.94,"y":0.754},{"x":5.0,"y":0.734},{"x":5.09,"y":0.524},{"x":5.18,"y":0.246},{"x":5.3,"y":0.087},{"x":5.45,"y":0.036},{"x":5.76,"y":0.016},{"x":6.06,"y":0.008}]},"mark":{"type":"line","color":"#a3a3a3","strokeWidth":2},"encoding":{"order":{"value":null}}},
{"data":{"values":[{"x":0.06,"y":0},{"x":0.12,"y":0.444},{"x":0.18,"y":0.881},{"x":0.21,"y":1.0},{"x":0.3,"y":0.992},{"x":0.61,"y":0.96},{"x":0.91,"y":0.933},{"x":1.42,"y":0.901},{"x":1.91,"y":0.877},{"x":2.42,"y":0.857},{"x":2.94,"y":0.841},{"x":3.42,"y":0.829},{"x":3.94,"y":0.817},{"x":5.0,"y":0.81},{"x":5.06,"y":0.524},{"x":5.12,"y":0.246},{"x":5.24,"y":0.075},{"x":5.39,"y":0.036},{"x":5.55,"y":0.016},{"x":6.06,"y":0.004}]},"mark":{"type":"line","color":"#29abe2","strokeWidth":2.2},"encoding":{"order":{"value":null}}},
{"data":{"values":[{"x":0,"y":0},{"x":0.09,"y":0.365},{"x":0.18,"y":0.683},{"x":0.3,"y":0.921},{"x":0.42,"y":0.98},{"x":0.61,"y":1.0},{"x":5.06,"y":1.004},{"x":5.3,"y":0.9},{"x":5.61,"y":0.782},{"x":6.06,"y":0.631}]},"mark":{"type":"line","color":"#8cc63f","strokeWidth":2},"encoding":{"order":{"value":null}}},
{"data":{"values":[{"x":1.36,"y":0.274},{"x":2.42,"y":0.274}]},"mark":{"type":"line","color":"#111111","strokeWidth":2.5},"encoding":{"order":{"value":null}}},
{"data":{"values":[{"x":2.03,"y":0.167,"t":"1 s"}]},"mark":{"type":"text","color":"#111111","fontSize":27},"encoding":{"text":{"field":"t"}}}
]},
{"encoding":{"x":{"field":"x","type":"quantitative","scale":{"type":"log","domain":[0.01,1000],"range":[533.5,762.5],"nice":false},"axis":{"orient":"bottom","offset":-55,"values":[0.01,0.02,0.03,0.04,0.05,0.06,0.07,0.08,0.09,0.1,0.2,0.3,0.4,0.5,0.6,0.7,0.8,0.9,1,2,3,4,5,6,7,8,9,10,20,30,40,50,60,70,80,90,100,200,300,400,500,600,700,800,900,1000],"labels":false,"tickSize":-4}},"y":{"field":"y","type":"quantitative","scale":{"type":"log","domain":[8.5e-6,108],"range":[1457,1253],"nice":false},"axis":{"orient":"left","offset":-533.5,"values":[1e-5,1e-4,1e-3,1e-2,1e-1,1,10,100],"labels":false,"tickSize":-4}}},
"layer":[
{"data":{"values":[{"x":0.01,"y":0.00603},{"x":0.0316,"y":0.0741},{"x":0.1,"y":0.891},{"x":0.214,"y":4.79},{"x":0.398,"y":11.2},{"x":0.631,"y":15.8},{"x":1,"y":20.0},{"x":2.51,"y":27.5},{"x":10,"y":31.6},{"x":100,"y":32.4},{"x":1000,"y":32.4}]},"mark":{"type":"line","color":"#a3a3a3","strokeWidth":2},"encoding":{"order":{"value":null}}},
{"data":{"values":[{"x":0.01,"y":0.129},{"x":0.02,"y":0.219},{"x":0.0398,"y":0.339},{"x":0.0933,"y":0.468},{"x":0.214,"y":0.589},{"x":1.74,"y":0.631},{"x":1000,"y":0.646}]},"mark":{"type":"line","color":"#8cc63f","strokeWidth":2},"encoding":{"order":{"value":null}}},
{"data":{"values":[{"x":0.01,"y":1.91e-5},{"x":0.0759,"y":0.00105},{"x":0.324,"y":0.0257},{"x":0.631,"y":0.1},{"x":1.135,"y":0.224},{"x":3.16,"y":0.398},{"x":13.8,"y":0.427},{"x":1000,"y":0.427}]},"mark":{"type":"line","color":"#6cc1cc","strokeWidth":2},"encoding":{"order":{"value":null}}},
{"data":{"values":[{"x":0.00124,"y":52.6,"t":"10"},{"x":0.00104,"y":7.8e-6,"t":"10"},{"x":0.0165,"y":1.14e-6,"t":"10"},{"x":1738,"y":1.14e-6,"t":"10"}]},"mark":{"type":"text","color":"#111111","fontSize":28},"encoding":{"text":{"field":"t"}}},
{"data":{"values":[{"x":0.00375,"y":108,"t":"2"},{"x":0.00357,"y":1.48e-5,"t":"-5"},{"x":0.0566,"y":2.34e-6,"t":"-2"},{"x":5129,"y":2.75e-6,"t":"3"}]},"mark":{"type":"text","color":"#111111","fontSize":18},"encoding":{"text":{"field":"t"}}},
{"data":{"values":[{"x":11.1,"y":1.14e-6,"t":"[Glu] (μM)"}]},"mark":{"type":"text","color":"#111111","fontSize":30},"encoding":{"text":{"field":"t"}}},
{"data":{"values":[{"x":0.00239,"y":0.0385,"t":"Q/N (pC)"}]},"mark":{"type":"text","color":"#111111","fontSize":30,"angle":270},"encoding":{"text":{"field":"t"}}}
]},
{"encoding":{"x":{"field":"x","type":"quantitative","scale":{"type":"log","domain":[0.195,183],"range":[864,1090],"nice":false},"axis":{"orient":"bottom","offset":-50,"values":[0.2,0.3,0.4,0.5,0.6,0.7,0.8,0.9,1,2,3,4,5,6,7,8,9,10,20,30,40,50,60,70,80,90,100],"labels":false,"tickSize":-4}},"y":{"field":"y","type":"quantitative","scale":{"type":"log","domain":[0.0443,1047],"range":[1462,1242],"nice":false},"axis":{"orient":"left","offset":-864,"values":[0.1,1,10,100,1000],"labels":false,"tickSize":-4}}},
"layer":[
{"data":{"values":[{"x":0.195,"y":14.8},{"x":0.692,"y":53.7},{"x":1.26,"y":95.5},{"x":2.4,"y":158.5},{"x":8.51,"y":263},{"x":29.5,"y":331},{"x":182,"y":417}]},"mark":{"type":"line","color":"#a3a3a3","strokeWidth":2},"encoding":{"order":{"value":null}}},
{"data":{"values":[{"x":0.195,"y":1.905},{"x":0.372,"y":3.39},{"x":0.692,"y":4.27},{"x":2.4,"y":5.13},{"x":15.85,"y":5.37},{"x":182,"y":6.46}]},"mark":{"type":"line","color":"#8cc63f","strokeWidth":2},"encoding":{"order":{"value":null}}},
{"data":{"values":[{"x":0.195,"y":0.0513},{"x":0.501,"y":0.135},{"x":1.26,"y":0.347},{"x":4.57,"y":1.2},{"x":15.85,"y":2.75},{"x":56.2,"y":4.07},{"x":182,"y":4.9}]},"mark":{"type":"line","color":"#6cc1cc","strokeWidth":2},"encoding":{"order":{"value":null}}},
{"data":{"values":[{"x":0.0635,"y":726,"t":"10"},{"x":0.0491,"y":0.0879,"t":"10"},{"x":1.2,"y":0.0169,"t":"1"},{"x":127,"y":0.0169,"t":"100"}]},"mark":{"type":"text","color":"#111111","fontSize":28},"encoding":{"text":{"field":"t"}}},
{"data":{"values":[{"x":0.12,"y":1148,"t":"3"},{"x":0.103,"y":0.1327,"t":"-1"}]},"mark":{"type":"text","color":"#111111","fontSize":18},"encoding":{"text":{"field":"t"}}},
{"data":{"values":[{"x":9.7,"y":0.0107,"t":"Hz"}]},"mark":{"type":"text","color":"#111111","fontSize":30},"encoding":{"text":{"field":"t"}}},
{"data":{"values":[{"x":0.0809,"y":11.8,"t":"Q/N (pC)"}]},"mark":{"type":"text","color":"#111111","fontSize":30,"angle":270},"encoding":{"text":{"field":"t"}}}
]}
]
}
